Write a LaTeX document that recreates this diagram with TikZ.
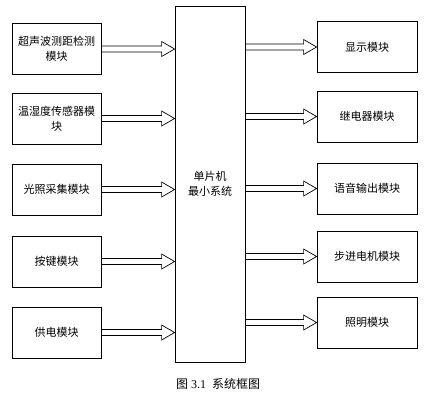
\documentclass[tikz,border=0pt]{standalone}
\usepackage{fontspec}
\setmainfont{Liberation Serif}
\newfontfamily\cjk{Noto Sans CJK SC}
\usepackage{tikz}
\usetikzlibrary{calc,positioning}

\begin{document}
\begin{tikzpicture}[x=1pt, y=-1pt,
    block/.style={rectangle, draw, line width=0.8pt, align=center, inner sep=1pt,
        font=\cjk\fontsize{11}{15}\selectfont},
    hollowarrow/.style={line width=0.7pt, to path={let \p1=(\tikztostart), \p2=(\tikztotarget) in
        (\x1,\y1+3pt) -- (\x2-13pt,\y1+3pt) -- (\x2-13pt,\y1+7.5pt) -- (\x2,\y1)
        -- (\x2-13pt,\y1-7.5pt) -- (\x2-13pt,\y1-3pt) -- (\x1,\y1-3pt) -- cycle}}
]
    \useasboundingbox (0,0) rectangle (428,402);

    % Center block
    \node[block, minimum width=70pt, minimum height=356pt] (mcu) at (210,184) {单片机\\最小系统};

    % Input modules
    \node[block, minimum width=89pt, minimum height=51pt] (in1) at (56.5,49) {超声波测距检测\\模块};
    \node[block, minimum width=89pt, minimum height=51pt] (in2) at (56.5,118.5) {温湿度传感器模\\块};
    \node[block, minimum width=89pt, minimum height=51pt] (in3) at (56.5,189.5) {光照采集模块};
    \node[block, minimum width=89pt, minimum height=51pt] (in4) at (56.5,261.5) {按键模块};
    \node[block, minimum width=89pt, minimum height=51pt] (in5) at (56.5,332.5) {供电模块};

    % Output modules
    \node[block, minimum width=100pt, minimum height=51pt] (out1) at (367,47) {显示模块};
    \node[block, minimum width=100pt, minimum height=51pt] (out2) at (367,116.5) {继电器模块};
    \node[block, minimum width=100pt, minimum height=51pt] (out3) at (367,188.5) {语音输出模块};
    \node[block, minimum width=100pt, minimum height=51pt] (out4) at (367,256.5) {步进电机模块};
    \node[block, minimum width=100pt, minimum height=51pt] (out5) at (367,322.5) {照明模块};

    % Arrows
    \foreach \i in {1,...,5} {
        \draw[hollowarrow] (in\i.east) to (mcu.west |- in\i.east);
        \draw[hollowarrow] (mcu.east |- out\i.west) to (out\i.west);
    }

    % Caption
    \node[font=\fontsize{12}{14}\selectfont] (cap) at (218,384) {{\cjk 图} 3.1\ \ {\cjk 系统框图}};
\end{tikzpicture}
\end{document}
